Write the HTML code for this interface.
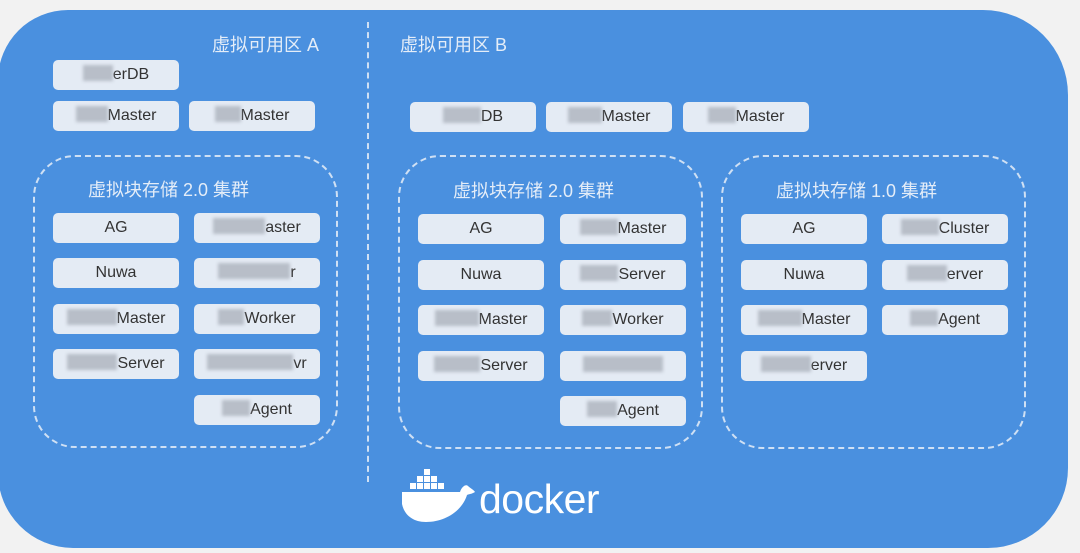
<!DOCTYPE html>
<html><head><meta charset="utf-8"><style>
*{margin:0;padding:0;box-sizing:border-box}
body{width:1080px;height:553px;background:#f2f2f2;position:relative;overflow:hidden;font-family:"Liberation Sans","Noto Sans CJK SC",sans-serif}
.main{position:absolute;left:-2px;top:10px;width:1070px;height:538px;background:#4a90df;border-radius:70px 85px 80px 75px}
.t{position:absolute;color:#e4edf8;font-size:18px;white-space:nowrap}
.b{position:absolute;width:126px;height:30px;background:#e4ebf4;border-radius:5px;color:#333;font-size:16px;line-height:30px;text-align:center;white-space:nowrap}
.bl{display:inline-block;height:16px;vertical-align:middle;background:#b8bec8;filter:blur(1.5px);margin-top:-3px}
.cl{position:absolute;border:2px dashed #cfe0f4;border-radius:42px}
.div{position:absolute;left:367px;top:22px;height:460px;border-left:2px dashed #cfe0f4}
</style></head><body>
<div class="main"></div>
<div class="div"></div>
<div class="t" style="left:212px;top:31px">虚拟可用区 A</div>
<div class="t" style="left:400px;top:31px">虚拟可用区 B</div>

<div class="b" style="left:53px;top:60px"><span class="bl" style="width:30px"></span>erDB</div>
<div class="b" style="left:53px;top:101px"><span class="bl" style="width:32px"></span>Master</div>
<div class="b" style="left:189px;top:101px"><span class="bl" style="width:26px"></span>Master</div>

<div class="b" style="left:410px;top:102px"><span class="bl" style="width:38px"></span>DB</div>
<div class="b" style="left:546px;top:102px"><span class="bl" style="width:34px"></span>Master</div>
<div class="b" style="left:683px;top:102px"><span class="bl" style="width:28px"></span>Master</div>

<div class="cl" style="left:33px;top:155px;width:305px;height:293px"></div>
<div class="t" style="left:88px;top:176px">虚拟块存储 2.0 集群</div>
<div class="b" style="left:53px;top:213px">AG</div>
<div class="b" style="left:53px;top:258px">Nuwa</div>
<div class="b" style="left:53px;top:304px"><span class="bl" style="width:50px"></span>Master</div>
<div class="b" style="left:53px;top:349px"><span class="bl" style="width:50px"></span>Server</div>
<div class="b" style="left:194px;top:213px"><span class="bl" style="width:52px"></span>aster</div>
<div class="b" style="left:194px;top:258px"><span class="bl" style="width:72px"></span>r</div>
<div class="b" style="left:194px;top:304px"><span class="bl" style="width:26px"></span>Worker</div>
<div class="b" style="left:194px;top:349px"><span class="bl" style="width:86px"></span>vr</div>
<div class="b" style="left:194px;top:395px"><span class="bl" style="width:28px"></span>Agent</div>

<div class="cl" style="left:398px;top:155px;width:305px;height:294px"></div>
<div class="t" style="left:453px;top:177px">虚拟块存储 2.0 集群</div>
<div class="b" style="left:418px;top:214px">AG</div>
<div class="b" style="left:418px;top:260px">Nuwa</div>
<div class="b" style="left:418px;top:305px"><span class="bl" style="width:44px"></span>Master</div>
<div class="b" style="left:418px;top:351px"><span class="bl" style="width:46px"></span>Server</div>
<div class="b" style="left:560px;top:214px"><span class="bl" style="width:38px"></span>Master</div>
<div class="b" style="left:560px;top:260px"><span class="bl" style="width:38px"></span>Server</div>
<div class="b" style="left:560px;top:305px"><span class="bl" style="width:30px"></span>Worker</div>
<div class="b" style="left:560px;top:351px"><span class="bl" style="width:80px"></span></div>
<div class="b" style="left:560px;top:396px"><span class="bl" style="width:30px"></span>Agent</div>

<div class="cl" style="left:721px;top:155px;width:305px;height:294px"></div>
<div class="t" style="left:776px;top:177px">虚拟块存储 1.0 集群</div>
<div class="b" style="left:741px;top:214px">AG</div>
<div class="b" style="left:741px;top:260px">Nuwa</div>
<div class="b" style="left:741px;top:305px"><span class="bl" style="width:44px"></span>Master</div>
<div class="b" style="left:741px;top:351px"><span class="bl" style="width:50px"></span>erver</div>
<div class="b" style="left:882px;top:214px"><span class="bl" style="width:38px"></span>Cluster</div>
<div class="b" style="left:882px;top:260px"><span class="bl" style="width:40px"></span>erver</div>
<div class="b" style="left:882px;top:305px"><span class="bl" style="width:28px"></span>Agent</div>

<svg style="position:absolute;left:400px;top:466px" width="80" height="60" viewBox="0 0 80 60">
<g fill="#fff">
<rect x="24" y="3" width="6" height="6"/>
<rect x="17" y="10" width="6" height="6"/><rect x="24" y="10" width="6" height="6"/><rect x="31" y="10" width="6" height="6"/>
<rect x="10" y="17" width="6" height="6"/><rect x="17" y="17" width="6" height="6"/><rect x="24" y="17" width="6" height="6"/><rect x="31" y="17" width="6" height="6"/><rect x="38" y="17" width="6" height="6"/>
<path d="M2 26 H60 C62 20 66 18 68 20 C70 22 74 24 75 26 C72 28 69 28 67 29 C62 45 45 56 26 56 C12 56 4 48 2 38 Z"/>
</g></svg>
<div style="position:absolute;left:479px;top:476px;color:#fff;font-size:41px;font-family:'Liberation Sans',sans-serif;letter-spacing:-0.5px">docker</div>
</body></html>
